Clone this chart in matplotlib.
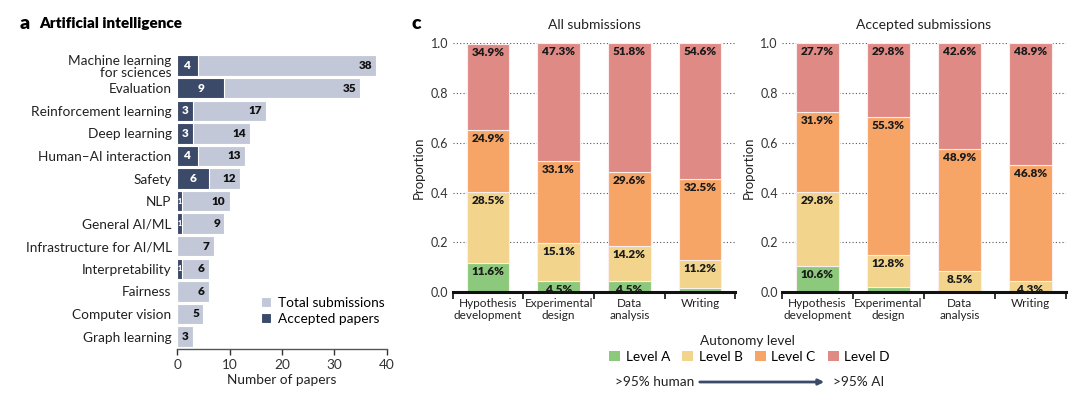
import matplotlib
matplotlib.use("Agg")
import matplotlib.pyplot as plt
from matplotlib.patches import Patch
import numpy as np

plt.rcParams['font.family'] = ['Lato', 'DejaVu Sans']

# panel a data
topics = ["Machine learning\nfor sciences", "Evaluation", "Reinforcement learning",
          "Deep learning", "Human\u2013AI interaction", "Safety", "NLP", "General AI/ML",
          "Infrastructure for AI/ML", "Interpretability", "Fairness", "Computer vision",
          "Graph learning"]
total_subs = [38, 35, 17, 14, 13, 12, 10, 9, 7, 6, 6, 5, 3]
accepted = [4, 9, 3, 3, 4, 6, 1, 1, 0, 1, 0, 0, 0]

# panel c data (percent)
stages = ["Hypothesis\ndevelopment", "Experimental\ndesign", "Data\nanalysis", "Writing"]
levels = ["Level A", "Level B", "Level C", "Level D"]
all_a = [11.6, 4.5, 4.5, 1.7]
all_b = [28.5, 15.1, 14.2, 11.2]
all_c = [24.9, 33.1, 29.6, 32.5]
all_d = [34.9, 47.3, 51.8, 54.6]
acc_a = [10.6, 2.1, 0.0, 0.0]
acc_b = [29.8, 12.8, 8.5, 4.3]
acc_c = [31.9, 55.3, 48.9, 46.8]
acc_d = [27.7, 29.8, 42.6, 48.9]

navy = '#3b4a69'
light = '#c3c8d8'
level_colors = ['#8dc97c', '#f2d48c', '#f6a567', '#e08a86']

fig = plt.figure(figsize=(10.8, 3.97), dpi=100)

# ---- panel a ----
ax = fig.add_axes([0.164, 0.121, 0.194, 0.745])
y = np.arange(len(topics))
ax.barh(y, total_subs, height=0.9, color=light, edgecolor='white', linewidth=0.8,
        label='Total submissions')
ax.barh(y, accepted, height=0.9, color=navy, edgecolor='white', linewidth=0.8,
        label='Accepted papers')
for i in range(len(topics)):
    ax.text(total_subs[i] - 0.8, y[i], str(total_subs[i]), ha='right', va='center',
            fontsize=8.5, fontweight='heavy', color='#111111')
    if accepted[i] > 0:
        ax.text(accepted[i] / 2, y[i], str(accepted[i]), ha='center', va='center',
                fontsize=8.5 if accepted[i] > 1 else 5, fontweight='heavy', color='white')
ax.set_yticks(y)
ax.set_yticklabels(topics, fontsize=9.8, color='#222222', linespacing=1.05)
ax.tick_params(axis='y', length=0, pad=4)
ax.set_ylim(len(topics) - 0.45, -0.55)
ax.set_xlim(0, 40)
ax.set_xticks([0, 10, 20, 30, 40])
ax.tick_params(axis='x', labelsize=9.8, colors='#333333', length=4, width=1)
ax.set_xlabel('Number of papers', fontsize=9.8, color='#222222', labelpad=2)
for s in ['top', 'right', 'left']:
    ax.spines[s].set_visible(False)
ax.spines['bottom'].set_color('#555555')
ax.spines['bottom'].set_linewidth(1)
ax.legend(loc='lower right', bbox_to_anchor=(1.05, 0.04), frameon=False, fontsize=9.8,
          handlelength=0.8, handleheight=0.8, handletextpad=0.5, labelspacing=0.3)

fig.text(0.018, 0.94, 'a', fontsize=14, fontweight='heavy', va='center')
fig.text(0.036, 0.94, 'Artificial intelligence', fontsize=11, fontweight='heavy', va='center')


# ---- panel c ----
def stacked(ax, a, b, c, d, title):
    x = np.arange(len(stages))
    parts = [np.array(a), np.array(b), np.array(c), np.array(d)]
    bottom = np.zeros(len(stages))
    for k, vals in enumerate(parts):
        frac = vals / 100.0
        ax.bar(x, frac, bottom=bottom, width=0.6, color=level_colors[k],
               edgecolor='#fbeeee', linewidth=0.8, zorder=2)
        for i in range(len(stages)):
            if vals[i] >= 4:
                ax.text(x[i], bottom[i] + frac[i] - 0.012, f'{vals[i]:.1f}%', ha='center',
                        va='top', fontsize=8.5, fontweight='heavy', color='#1a1a1a', zorder=3)
        bottom = bottom + frac
    ax.set_xlim(-0.5, len(stages) - 0.5)
    ax.set_ylim(0, 1.0)
    ax.set_yticks([0, 0.2, 0.4, 0.6, 0.8, 1.0])
    ax.set_yticklabels(['0.0', '0.2', '0.4', '0.6', '0.8', '1.0'])
    ax.yaxis.grid(True, linestyle=(0, (1, 2)), color='#555555', linewidth=0.8, zorder=0)
    ax.set_axisbelow(True)
    ax.tick_params(axis='y', length=0, labelsize=9, colors='#333333', pad=3)
    ax.set_xticks(x)
    ax.set_xticklabels(stages, fontsize=8.5, color='#222222', linespacing=1.1)
    ax.set_xticks(np.arange(-0.5, len(stages), 1.0), minor=True)
    ax.tick_params(axis='x', which='major', length=0, pad=4)
    ax.tick_params(axis='x', which='minor', length=5, width=1.2, color='#111111')
    for s in ['top', 'right', 'left']:
        ax.spines[s].set_visible(False)
    ax.spines['bottom'].set_linewidth(2.2)
    ax.spines['bottom'].set_color('#111111')
    ax.set_ylabel('Proportion', fontsize=9.5, color='#222222', labelpad=4)
    ax.set_title(title, fontsize=10, color='#222222', pad=10)


ax1 = fig.add_axes([0.419, 0.264, 0.262, 0.627])
stacked(ax1, all_a, all_b, all_c, all_d, 'All submissions')
ax2 = fig.add_axes([0.724, 0.264, 0.263, 0.627])
stacked(ax2, acc_a, acc_b, acc_c, acc_d, 'Accepted submissions')

fig.text(0.381, 0.94, 'c', fontsize=14, fontweight='heavy', va='center')

fig.text(0.692, 1 - 341 / 397, 'Autonomy level', fontsize=9.8, ha='center', va='center',
         color='#222222')
handles = [Patch(facecolor=c, edgecolor='none') for c in level_colors]
fig.legend(handles, levels, loc='center', bbox_to_anchor=(0.694, 1 - 357 / 397), ncol=4,
           frameon=False, fontsize=9.8, handlelength=0.8, handleheight=0.8,
           handletextpad=0.4, columnspacing=0.9)

fig.text(0.569, 1 - 382 / 397, '>95% human', fontsize=9.8, ha='left', va='center',
         color='#222222')
fig.text(0.771, 1 - 382 / 397, '>95% AI', fontsize=9.8, ha='left', va='center',
         color='#222222')
fig.add_artist(matplotlib.patches.FancyArrowPatch(
    (697 / 1080, 1 - 382 / 397), (827 / 1080, 1 - 382 / 397), transform=fig.transFigure,
    arrowstyle='-|>', mutation_scale=8, color=navy, linewidth=2))

fig.savefig('out.png', dpi=100, facecolor='white')
